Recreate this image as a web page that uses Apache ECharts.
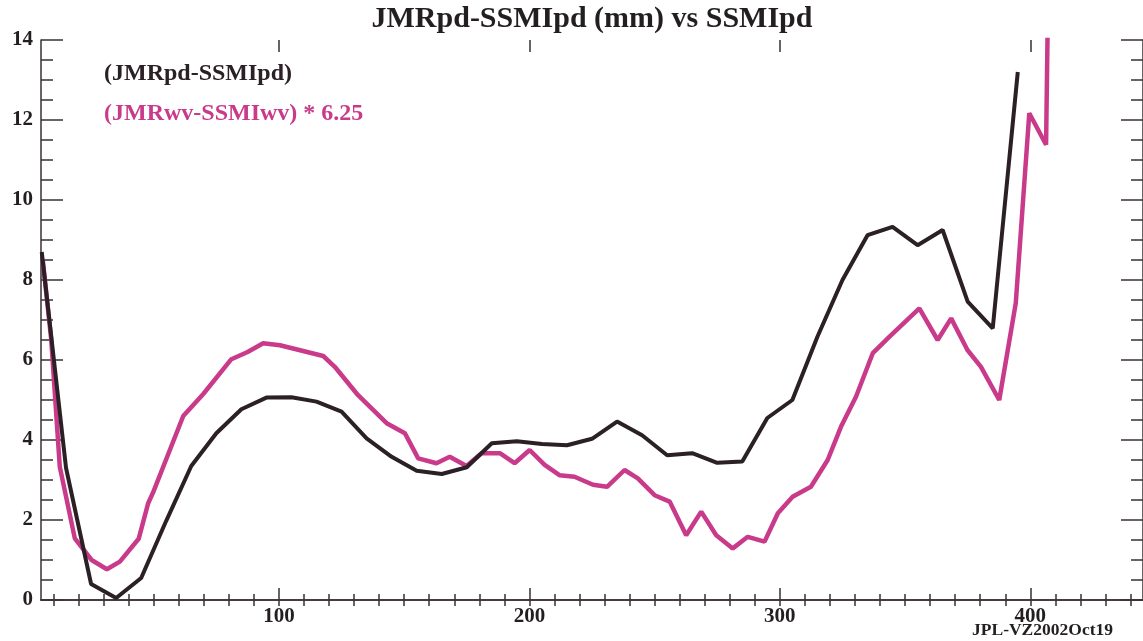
<!DOCTYPE html>
<html>
<head>
<meta charset="utf-8">
<title>JMRpd-SSMIpd (mm) vs SSMIpd</title>
<script src="https://cdn.jsdelivr.net/npm/echarts@6/dist/echarts.min.js"></script>
<style>
  html, body { margin: 0; padding: 0; background: #fff; }
  #chart { width: 1143px; height: 641px; }
</style>
</head>
<body>
<div id="chart"></div>
<script>
// JMRpd-SSMIpd (black)
const pdX = [5.3, 15, 25, 35, 45, 55, 65, 75, 85, 95, 105, 115, 125, 135, 145, 155, 165, 175, 185, 195,
  205, 215, 225, 235, 245, 255, 265, 275, 285, 295, 305, 315, 325, 335, 345, 355, 365, 375, 385, 395];
const pdY = [8.7, 3.3, 0.4, 0.05, 0.55, 1.98, 3.35, 4.17, 4.77, 5.06, 5.07, 4.96, 4.71, 4.04, 3.58, 3.23, 3.15, 3.32, 3.92, 3.97,
  3.9, 3.87, 4.03, 4.46, 4.12, 3.62, 3.67, 3.43, 3.46, 4.55, 5.0, 6.58, 8.0, 9.12, 9.33, 8.87, 9.25, 7.46, 6.79, 13.2];

// (JMRwv-SSMIwv) * 6.25 (magenta)
const wvX = [5.7, 9.1, 12.5, 18.5, 25.2, 31.3, 36.5, 44, 47.8, 49.7, 61.8, 69.8, 81, 87.5, 93.7, 100.4, 117.7, 122.3, 131.6, 143,
  150.3, 155.6, 162.9, 168.2, 174.9, 180.9, 188.2, 194.1, 200.1, 206.1, 212, 218, 225.4, 231, 238, 243.3, 250, 256, 262.6, 268.6,
  274.6, 281.2, 287.2, 293.9, 299.2, 305.1, 312.4, 319.1, 324.4, 330.4, 337.1, 343.7, 355.7, 363, 368.4, 374.9, 380.3, 387.6, 394.2, 399.6,
  406.3, 407.5];
const wvY = [8.5, 6.5, 3.33, 1.54, 1.0, 0.77, 0.96, 1.53, 2.42, 2.68, 4.6, 5.15, 6.02, 6.2, 6.42, 6.37, 6.1, 5.83, 5.12, 4.42,
  4.17, 3.54, 3.42, 3.58, 3.35, 3.67, 3.67, 3.42, 3.75, 3.38, 3.12, 3.08, 2.88, 2.83, 3.25, 3.04, 2.62, 2.46, 1.62, 2.21,
  1.62, 1.29, 1.58, 1.46, 2.17, 2.58, 2.83, 3.5, 4.33, 5.08, 6.17, 6.58, 7.29, 6.5, 7.04, 6.25, 5.83, 5.0, 7.42, 12.17,
  11.38, 17];

// tick labels
const xLabels = [100, 200, 300, 400];
const xMinorTicks = [];
for (let v = 10; v <= 440; v += 10) xMinorTicks.push(v);

const serif = "'Liberation Serif', 'DejaVu Serif', serif";
const axisColor = '#3a3033';
const pdColor = '#2a2025';
const wvColor = '#c93b8a';

const chart = echarts.init(document.getElementById('chart'), null, { renderer: 'canvas' });

// two grids on top of each other: grid 0 carries the data + minor ticks, grid 1 the long x ticks
const gridBox = { left: 41, top: 40, width: 1103, height: 560 };

function xAxisDef(gridIndex, position, ticks, len, withLabels) {
  return {
    type: 'value',
    gridIndex: gridIndex,
    position: position,
    min: 5,
    max: 445,
    axisLine: { show: gridIndex === 0, lineStyle: { color: axisColor, width: 1.5 } },
    axisTick: { show: true, inside: true, length: len, customValues: ticks, lineStyle: { color: axisColor, width: 1.5 } },
    axisLabel: withLabels ? {
      show: true, customValues: xLabels, margin: 6,
      fontFamily: serif, fontWeight: 'bold', fontSize: 21, color: '#231f20'
    } : { show: false },
    splitLine: { show: false }
  };
}

function yAxisDef(gridIndex, position, withLabels) {
  return {
    type: 'value',
    gridIndex: gridIndex,
    position: position,
    show: gridIndex === 0,
    min: 0,
    max: 14,
    interval: 2,
    axisLine: { show: true, lineStyle: { color: axisColor, width: 1.5 } },
    axisTick: { show: true, inside: true, length: 22, lineStyle: { color: axisColor, width: 1.5 } },
    minorTick: { show: true, splitNumber: 4, length: 12, lineStyle: { color: axisColor, width: 1.5 } },
    axisLabel: withLabels ? {
      show: true, margin: 8,
      fontFamily: serif, fontWeight: 'bold', fontSize: 21, color: '#231f20'
    } : { show: false },
    splitLine: { show: false }
  };
}

const option = {
  backgroundColor: '#ffffff',
  animation: false,
  grid: [
    Object.assign({}, gridBox),
    Object.assign({}, gridBox)
  ],
  xAxis: [
    xAxisDef(0, 'bottom', xMinorTicks, 6, true),
    xAxisDef(0, 'top', xMinorTicks, 6, false),
    xAxisDef(1, 'bottom', xLabels, 12, false),
    xAxisDef(1, 'top', xLabels, 12, false)
  ],
  yAxis: [
    yAxisDef(0, 'left', true),
    yAxisDef(0, 'right', false),
    yAxisDef(1, 'left', false)
  ],
  series: [
    {
      name: '(JMRwv-SSMIwv) * 6.25',
      type: 'line',
      xAxisIndex: 0,
      yAxisIndex: 0,
      data: wvX.map((x, i) => [x, wvY[i]]),
      showSymbol: false,
      clip: true,
      lineStyle: { color: wvColor, width: 4.5 },
      itemStyle: { color: wvColor }
    },
    {
      name: '(JMRpd-SSMIpd)',
      type: 'line',
      xAxisIndex: 0,
      yAxisIndex: 0,
      data: pdX.map((x, i) => [x, pdY[i]]),
      showSymbol: false,
      clip: true,
      lineStyle: { color: pdColor, width: 4 },
      itemStyle: { color: pdColor }
    }
  ],
  graphic: [
    {
      type: 'text', x: 592, y: 19,
      style: {
        text: 'JMRpd-SSMIpd (mm) vs SSMIpd',
        font: 'bold 30px ' + serif, fill: '#231f20',
        align: 'center', verticalAlign: 'middle', textAlign: 'center', textVerticalAlign: 'middle'
      }
    },
    {
      type: 'text', x: 104, y: 74,
      style: {
        text: '(JMRpd-SSMIpd)',
        font: 'bold 24px ' + serif, fill: pdColor,
        align: 'left', verticalAlign: 'middle', textAlign: 'left', textVerticalAlign: 'middle'
      }
    },
    {
      type: 'text', x: 104, y: 114,
      style: {
        text: '(JMRwv-SSMIwv) * 6.25',
        font: 'bold 24px ' + serif, fill: wvColor,
        align: 'left', verticalAlign: 'middle', textAlign: 'left', textVerticalAlign: 'middle'
      }
    },
    {
      type: 'text', x: 1113, y: 630,
      style: {
        text: 'JPL-VZ2002Oct19',
        font: 'bold 17.5px ' + serif, fill: '#231f20',
        align: 'right', verticalAlign: 'middle', textAlign: 'right', textVerticalAlign: 'middle'
      }
    }
  ]
};

chart.setOption(option);
</script>
</body>
</html>
